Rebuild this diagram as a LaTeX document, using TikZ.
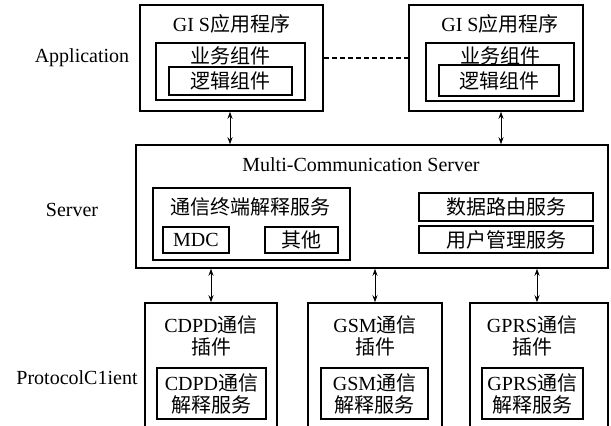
\documentclass[tikz,border=0pt]{standalone}
\usepackage{fontspec}
\setmainfont{Liberation Serif}
\newfontfamily\cjk{Noto Sans CJK SC}
\usetikzlibrary{arrows.meta}
\begin{document}
\begin{tikzpicture}[x=1pt,y=-1pt,
  every node/.style={font=\fontsize{20}{22}\selectfont, inner sep=0pt},
  outerbox/.style={draw, line width=1.5pt},
  innerbox/.style={draw, line width=1.1pt},
  lbl/.style={},
  biarrow/.style={{Stealth[length=7pt,width=5pt]}-{Stealth[length=7pt,width=5pt]}, line width=1pt}]
\useasboundingbox (0,0) rectangle (611,426);
\clip (0,0) rectangle (611,426);
% layer labels
\node[lbl] (lapp) at (82,58) {Application};
\node[lbl] (lsrv) at (72,210) {Server};
\node[lbl] (lpc) at (77,378) {ProtocolC1ient};
% application boxes
\node[outerbox, minimum width=183, minimum height=106] (app1) at (231.5,58) {};
\node (app1t) at (231.5,24) {GI S{\cjk 应用程序}};
\node[innerbox, minimum width=149, minimum height=57] (biz1) at (230.5,71.5) {};
\node (biz1t) at (230.5,56) {\cjk 业务组件};
\node[outerbox, minimum width=123, minimum height=28] (log1) at (230.5,81) {};
\node (log1t) at (230.5,81) {\cjk 逻辑组件};
\node[outerbox, minimum width=174, minimum height=106] (app2) at (496,58) {};
\node (app2t) at (500,24) {GI S{\cjk 应用程序}};
\node[innerbox, minimum width=148, minimum height=58] (biz2) at (500,72) {};
\node (biz2t) at (500,56) {\cjk 业务组件};
\node[outerbox, minimum width=120, minimum height=31] (log2) at (499,80.5) {};
\node (log2t) at (499,80.5) {\cjk 逻辑组件};
\draw[line width=1.1pt, dash pattern=on 5pt off 3pt] (app1.east) -- (app2.west);
% server
\node[outerbox, minimum width=472, minimum height=123] (srv) at (372,206.5) {};
\node (srvt) at (361,165) {Multi-Communication Server};
\node[outerbox, minimum width=197, minimum height=72] (term) at (251.5,224) {};
\node (termt) at (250,207) {\cjk 通信终端解释服务};
\node[outerbox, minimum width=66, minimum height=26] (mdc) at (196,240) {MDC};
\node[outerbox, minimum width=73, minimum height=26] (oth) at (301.5,240) {\cjk 其他};
\node[innerbox, minimum width=174, minimum height=28] (route) at (506,207) {\cjk 数据路由服务};
\node[outerbox, minimum width=174, minimum height=27] (user) at (506,239.5) {\cjk 用户管理服务};
% application <-> server
\draw[biarrow] ([xshift=-1.5pt]app1.south) -- ([xshift=-1.5pt]app1.south |- srv.north);
\draw[biarrow] ([xshift=5pt]app2.south) -- ([xshift=5pt]app2.south |- srv.north);
% protocol clients
\node[outerbox, minimum width=132, minimum height=127] (cdpd) at (211,366.5) {};
\node[outerbox, minimum width=134, minimum height=127] (gsm) at (375,366.5) {};
\node[outerbox, minimum width=138, minimum height=127] (gprs) at (539,366.5) {};
\node[align=center] (cdpdt) at (211,336) {CDPD{\cjk 通信}\\{\cjk 插件}};
\node[align=center] (gsmt) at (375,336) {GSM{\cjk 通信}\\{\cjk 插件}};
\node[align=center] (gprst) at (532,336) {GPRS{\cjk 通信}\\{\cjk 插件}};
\node[outerbox, minimum width=109, minimum height=51, align=center] (cdpdi) at (211.5,393.5) {CDPD{\cjk 通信}\\{\cjk 解释服务}};
\node[outerbox, minimum width=107, minimum height=51, align=center] (gsmi) at (374.5,393.5) {GSM{\cjk 通信}\\{\cjk 解释服务}};
\node[innerbox, minimum width=101, minimum height=51, align=center] (gprsi) at (532.5,393.5) {GPRS{\cjk 通信}\\{\cjk 解释服务}};
% server <-> clients
\draw[biarrow] (cdpd.north) -- (cdpd.north |- srv.south);
\draw[biarrow] (gsm.north) -- (gsm.north |- srv.south);
\draw[biarrow] ([xshift=-2pt]gprs.north) -- ([xshift=-2pt]gprs.north |- srv.south);
\end{tikzpicture}
\end{document}
